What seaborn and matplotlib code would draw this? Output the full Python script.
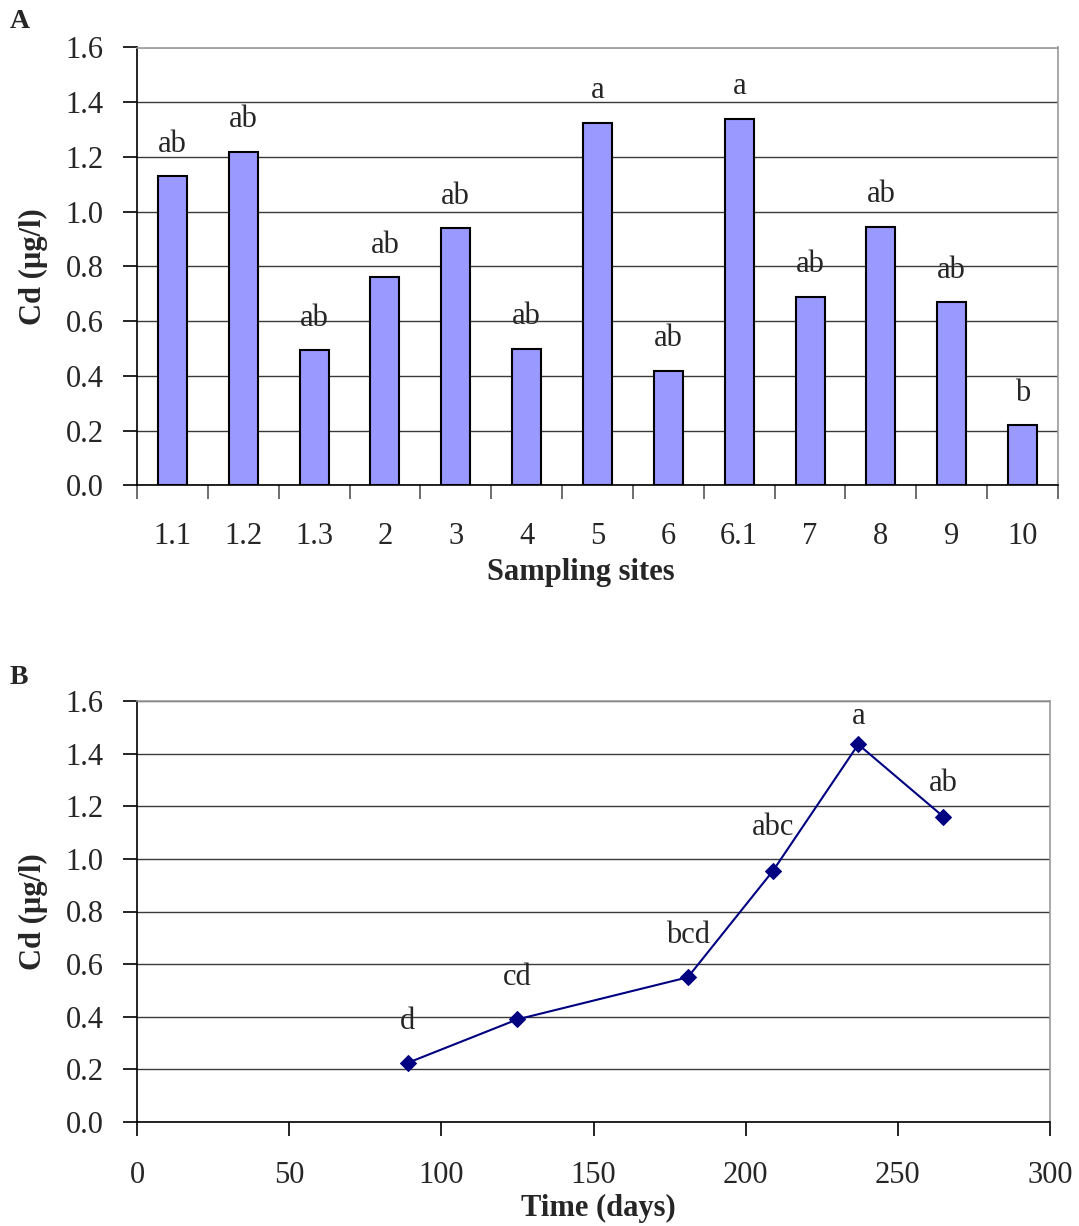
"""Cd concentration by sampling site (A) and over time (B)."""

import matplotlib

matplotlib.use("Agg")
import matplotlib.pyplot as plt
import pandas as pd
import seaborn as sns

# Panel A: sampling sites
sites = ["1.1", "1.2", "1.3", "2", "3", "4", "5", "6", "6.1", "7", "8", "9", "10"]
cd_sites = [1.13, 1.22, 0.495, 0.76, 0.94, 0.50, 1.325, 0.42, 1.34, 0.69, 0.945, 0.67, 0.22]
site_letters = ["ab", "ab", "ab", "ab", "ab", "ab", "a", "ab", "a", "ab", "ab", "ab", "b"]

# Panel B: time course
days = [89, 125, 181, 209, 237, 265]
cd_time = [0.225, 0.39, 0.55, 0.955, 1.435, 1.16]
time_letters = ["d", "cd", "bcd", "abc", "a", "ab"]

sns.set_style("white")
plt.rcParams["font.family"] = ["Liberation Serif", "DejaVu Serif"]

FS = 22
GRID = "#3a3a3a"
FRAME = "#999999"

W, H = 1079, 1226
fig = plt.figure(figsize=(W / 100, H / 100), dpi=100)


def _style_frame(ax, label_x):
    ax.set_ylim(0, 1.6)
    ax.set_yticks([0.0, 0.2, 0.4, 0.6, 0.8, 1.0, 1.2, 1.4, 1.6])
    ax.set_yticklabels([f"{v:.1f}" for v in ax.get_yticks()])
    ax.yaxis.grid(True, color=GRID, linewidth=1.0)
    ax.set_axisbelow(True)
    for side in ("left", "bottom"):
        ax.spines[side].set_color("black")
        ax.spines[side].set_linewidth(1.2)
    for side in ("top", "right"):
        ax.spines[side].set_visible(True)
        ax.spines[side].set_color(FRAME)
        ax.spines[side].set_linewidth(1.2)
    ax.tick_params(axis="y", which="major", direction="out", length=10, width=1.2,
                   color="black", pad=14, labelsize=FS, left=True)
    ax.set_ylabel("Cd (µg/l)", fontsize=FS, fontweight="bold")
    ax.yaxis.set_label_coords(label_x, 0.5)


# ---- Panel A ----
axA = fig.add_axes([137 / W, 1 - 485.5 / H, 921 / W, 438 / H])
dfA = pd.DataFrame({"site": sites, "cd": cd_sites})
sns.barplot(data=dfA, x="site", y="cd", order=sites, color="#9999FF", saturation=1,
            width=0.41, edgecolor="black", linewidth=1.5, ax=axA)
axA.set_xlim(-0.5, len(sites) - 0.5)
_style_frame(axA, -0.097)
axA.set_xticks([i - 0.5 for i in range(len(sites) + 1)], minor=True)
axA.tick_params(axis="x", which="minor", direction="out", length=10, width=1.2,
                color="#555555", bottom=True)
axA.tick_params(axis="x", which="major", length=0, pad=26, labelsize=FS)
axA.set_xlabel("Sampling sites", fontsize=FS, fontweight="bold")
axA.xaxis.set_label_coords(0.482, -0.166)
axA.xaxis.label.set_va("top")
for i, (v, t) in enumerate(zip(cd_sites, site_letters)):
    axA.annotate(t, (i, v), xytext=(0, 23), textcoords="offset points",
                 ha="center", va="center", fontsize=FS)

# ---- Panel B ----
axB = fig.add_axes([137 / W, 1 - 1122 / H, 913 / W, 421 / H])
dfB = pd.DataFrame({"day": days, "cd": cd_time})
sns.lineplot(data=dfB, x="day", y="cd", color="#000080", linewidth=1.5,
             marker="D", markersize=8, markeredgecolor="#000080", ax=axB)
axB.set_xlim(0, 300)
axB.set_xticks(range(0, 301, 50))
_style_frame(axB, -0.098)
axB.tick_params(axis="x", which="major", direction="out", length=10, width=1.2,
                color="black", pad=18, labelsize=FS, bottom=True)
axB.set_xlabel("Time (days)", fontsize=FS, fontweight="bold")
axB.xaxis.set_label_coords(0.505, -0.170)
axB.xaxis.label.set_va("top")
offsets = [30, 30, 30, 31, 20, 24]
for x, v, t, off in zip(days, cd_time, time_letters, offsets):
    axB.annotate(t, (x, v), xytext=(0, off), textcoords="offset points",
                 ha="center", va="center", fontsize=FS)

fig.text(10 / W, 1 - 22 / H, "A", fontsize=20, fontweight="bold", va="center")
fig.text(10 / W, 1 - 677 / H, "B", fontsize=20, fontweight="bold", va="center")

fig.savefig("out.png", dpi=100)
